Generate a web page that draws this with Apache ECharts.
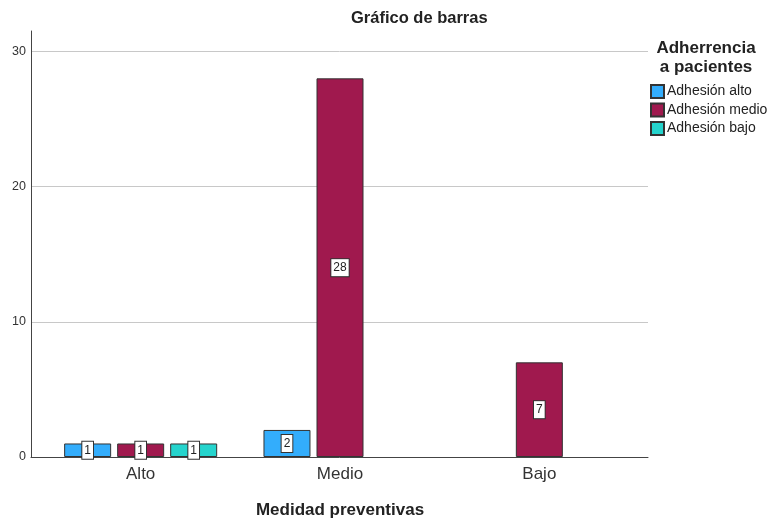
<!DOCTYPE html>
<html>
<head>
<meta charset="utf-8">
<title>Gráfico de barras</title>
<script src="https://cdn.jsdelivr.net/npm/echarts@6/dist/echarts.min.js"></script>
<style>
  body { margin: 0; background: #fff; }
  #main { width: 768px; height: 520px; }
</style>
</head>
<body>
<div id="main"></div>
<script>
  // datos
  var categorias = ['Alto', 'Medio', 'Bajo'];
  var series_nombres = ['Adhesión alto', 'Adhesión medio', 'Adhesión bajo'];
  var adhesion_alto = [1, 2, null];
  var adhesion_medio = [1, 28, 7];
  var adhesion_bajo = [1, null, null];
  var colores = ['#33adfc', '#a0194e', '#25d4cd'];

  var fuente = 'Arial, "Liberation Sans", sans-serif';
  var y_max = 31.5;

  var etiqueta = {
    show: true,
    position: 'inside',
    formatter: '{c}',
    color: '#222',
    fontSize: 12,
    fontFamily: fuente,
    backgroundColor: '#fff',
    borderColor: '#333',
    borderWidth: 1,
    padding: [3, 2, 2, 2]
  };

  function serie(nombre, datos, color) {
    return {
      name: nombre,
      type: 'bar',
      data: datos,
      xAxisIndex: 0,
      yAxisIndex: 0,
      barWidth: 47,
      barGap: '12.8%',
      itemStyle: { color: color, borderColor: '#333', borderWidth: 1 },
      label: etiqueta
    };
  }

  var myChart = echarts.init(document.getElementById('main'));
  myChart.setOption({
    animation: false,
    textStyle: { fontFamily: fuente },
    title: [
      {
        text: 'Gráfico de barras',
        left: 346,
        top: 5,
        textStyle: { fontSize: 16.5, fontWeight: 'bold', color: '#222', fontFamily: fuente }
      },
      {
        text: 'Adherrencia\na pacientes',
        left: 701,
        top: 34,
        textAlign: 'center',
        textStyle: { fontSize: 17, fontWeight: 'bold', color: '#222', lineHeight: 19, fontFamily: fuente }
      }
    ],
    legend: {
      orient: 'vertical',
      left: 650,
      top: 84,
      padding: 0,
      itemWidth: 13,
      itemHeight: 13,
      itemGap: 3.5,
      icon: 'rect',
      data: series_nombres,
      textStyle: { fontSize: 14, color: '#222', padding: [0, 0, 0, -2] }
    },
    // grid 0: barras; grid 1: marco con ejes y lineas
    grid: [
      { left: 41, right: 129, top: 31, bottom: 63, outerBoundsMode: 'none' },
      { left: 31, right: 120, top: 31, bottom: 63, outerBoundsMode: 'none' }
    ],
    xAxis: [
      {
        type: 'category',
        gridIndex: 0,
        data: categorias,
        axisLine: { show: false },
        axisTick: { show: false },
        axisLabel: { fontSize: 17, color: '#333', margin: 9 },
        name: 'Medidad preventivas',
        nameLocation: 'middle',
        nameGap: 45,
        nameTextStyle: { fontSize: 17, fontWeight: 'bold', color: '#222' }
      },
      {
        type: 'value',
        gridIndex: 1,
        min: 0,
        max: 1,
        axisLine: { show: true, lineStyle: { color: '#444' } },
        axisTick: { show: false },
        axisLabel: { show: false },
        splitLine: { show: false }
      }
    ],
    yAxis: [
      {
        type: 'value',
        gridIndex: 0,
        min: 0,
        max: y_max,
        show: false,
        splitLine: { show: false }
      },
      {
        type: 'value',
        gridIndex: 1,
        min: 0,
        max: y_max,
        interval: 10,
        axisLine: { show: true, lineStyle: { color: '#444' } },
        axisTick: { show: false },
        axisLabel: { fontSize: 12.5, color: '#333', margin: 5, padding: [4, 0, 0, 0], showMaxLabel: false },
        splitLine: { show: true, showMaxLine: false, lineStyle: { color: '#c8c8c8' } }
      }
    ],
    series: [
      serie(series_nombres[0], adhesion_alto, colores[0]),
      serie(series_nombres[1], adhesion_medio, colores[1]),
      serie(series_nombres[2], adhesion_bajo, colores[2])
    ]
  });
</script>
</body>
</html>
